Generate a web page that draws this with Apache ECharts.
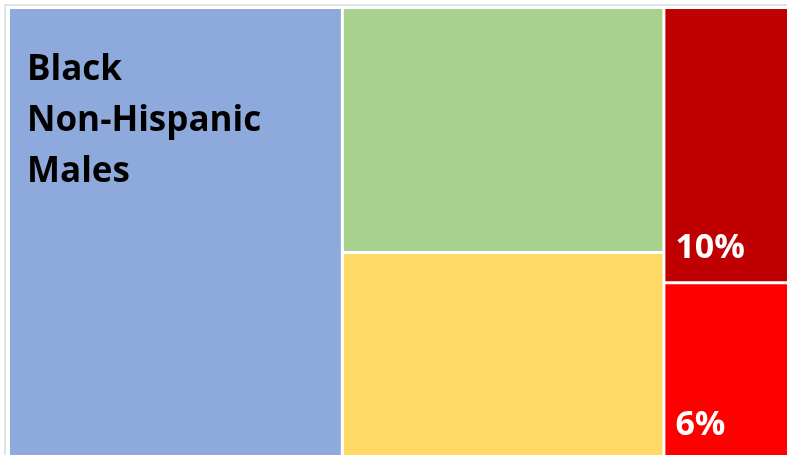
<!DOCTYPE html>
<html>
<head>
<meta charset="utf-8">
<script src="https://cdn.jsdelivr.net/npm/echarts@6/dist/echarts.min.js"></script>
<style>
  html, body { margin: 0; padding: 0; background: #ffffff; }
  #chart { width: 787px; height: 455px; }
</style>
</head>
<body>
<div id="chart"></div>
<script>
// Leaf categories (shares of the total, in %, read from the tile areas)
const categories = ['Black Non-Hispanic Males', 'Segment B', 'Segment C', 'Segment D', 'Segment E'];
const values = [42.15, 22.0, 18.6, 10.5, 6.75];
const tileLabels = ['Black\nNon-Hispanic\nMales', '', '', '10%', '6%'];
const colors = ['#8EA9DB', '#A9D18E', '#FFD966', '#C00000', '#FF0000'];
// Which column group each leaf belongs to
const groups = [0, 1, 1, 2, 2];

const chart = echarts.init(document.getElementById('chart'), null, { renderer: 'canvas' });

function leaf(i) {
  const isFirst = i === 0;
  return {
    name: categories[i],
    value: values[i],
    itemStyle: { color: colors[i], borderWidth: 0 },
    label: isFirst ? {
      show: true,
      formatter: tileLabels[i],
      position: [17, 36],
      align: 'left',
      verticalAlign: 'top',
      padding: 0,
      color: '#000000',
      fontFamily: 'Open Sans',
      fontWeight: 'bold',
      fontSize: 35,
      lineHeight: 51
    } : {
      show: tileLabels[i] !== '',
      formatter: tileLabels[i],
      position: 'insideBottomLeft',
      distance: 12,
      offset: [-2, -4],
      padding: 0,
      color: '#ffffff',
      fontFamily: 'Open Sans',
      fontWeight: 'bold',
      fontSize: 34,
      lineHeight: 34
    }
  };
}

const groupData = [0, 1, 2].map(g => ({
  name: 'group' + g,
  children: categories.map((c, i) => i).filter(i => groups[i] === g).map(leaf)
}));

chart.setOption({
  backgroundColor: '#ffffff',
  animation: false,
  graphic: [{
    type: 'rect',
    shape: { x: 5, y: 5, width: 900, height: 600 },
    style: { fill: 'none', stroke: '#d9d9d9', lineWidth: 1.5 },
    silent: true,
    z: -10
  }],
  series: [{
    type: 'treemap',
    left: 10,
    top: 9,
    width: 789,
    height: 449,
    squareRatio: 1,
    roam: false,
    nodeClick: false,
    breadcrumb: { show: false },
    visibleMin: 0,
    label: { show: false },
    upperLabel: { show: false },
    levels: [
      { itemStyle: { gapWidth: 3, borderWidth: 0 } },
      { itemStyle: { gapWidth: 3, borderWidth: 0, borderColor: '#ffffff' }, label: { show: false }, upperLabel: { show: false } },
      { itemStyle: { gapWidth: 0, borderWidth: 0 } }
    ],
    data: groupData
  }]
});
</script>
</body>
</html>
